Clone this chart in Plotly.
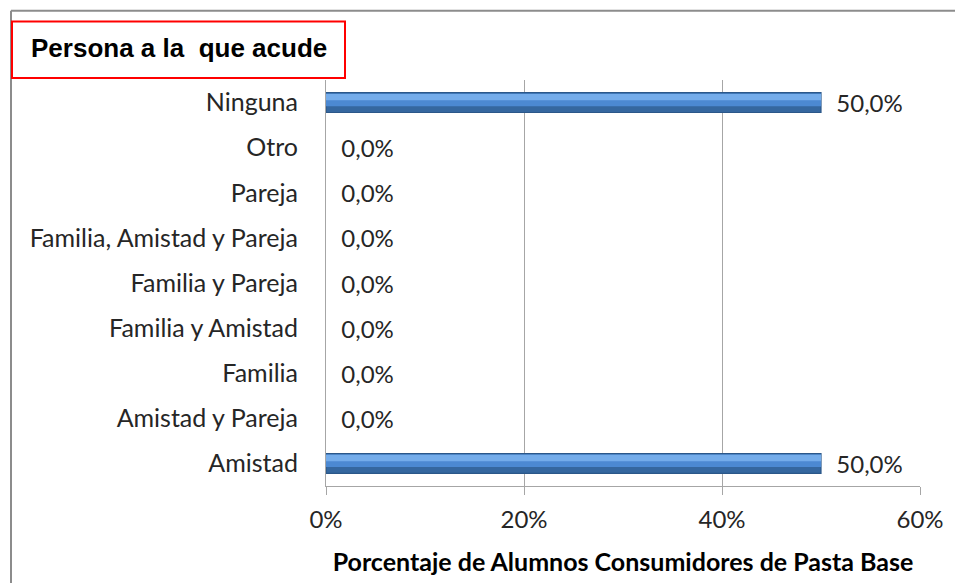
import plotly.graph_objects as go

categories = ["Amistad", "Amistad y Pareja", "Familia", "Familia y Amistad",
              "Familia y Pareja", "Familia, Amistad y Pareja", "Pareja", "Otro", "Ninguna"]
values = [50.0, 0.0, 0.0, 0.0, 0.0, 0.0, 0.0, 0.0, 50.0]
x_ticks = [0, 20, 40, 60]
x_tick_labels = ["0%", "20%", "40%", "60%"]
title_text = "Persona a la  que acude"
x_title = "Porcentaje de Alumnos Consumidores de Pasta Base"

labels = ["\u00a0\u00a0" + f"{v:.1f}%".replace(".", ",") for v in values]

OFF = 8  # page body margin
W, H = 963 - OFF, 583 - OFF
L, R, T, B = 326 - OFF, 963 - 920, 80 - OFF, 583 - 490
pw, ph = W - L - R, H - T - B

def px(x):
    return (x - OFF - L) / pw

def py(y):
    return (H - B - (y - OFF)) / ph

font_main = "Lato, Calibri, sans-serif"
edge_w = [1.2 if v > 0 else 0 for v in values]

fig = go.Figure()
fig.add_trace(go.Bar(
    y=categories, x=values, orientation="h",
    marker=dict(color="#35679F", line=dict(color="#2B5789", width=edge_w)),
    width=0.44,
    text=labels, textposition="outside", cliponaxis=False, constraintext="none",
    textfont=dict(family=font_main, size=24, color="#262626"),
    hoverinfo="skip",
))
# lighter bands in the upper part of each bar (gradient look)
fig.add_trace(go.Bar(
    y=categories, x=values, orientation="h",
    marker=dict(color="#4C89D2", line=dict(width=0)),
    width=0.28, offset=-0.08,
    hoverinfo="skip",
))
fig.add_trace(go.Bar(
    y=categories, x=values, orientation="h",
    marker=dict(color="#74ACEA", line=dict(width=0)),
    width=0.14, offset=0.05,
    hoverinfo="skip",
))

fig.update_layout(
    width=W, height=H,
    margin=dict(l=L, r=R, t=T, b=B),
    paper_bgcolor="white", plot_bgcolor="white",
    showlegend=False, barmode="overlay",
    xaxis=dict(
        range=[0, 60], tickvals=x_ticks, ticktext=x_tick_labels,
        showgrid=True, gridcolor="#a6a6a6", gridwidth=1,
        showline=True, linecolor="#a6a6a6", linewidth=1,
        ticks="outside", ticklen=8, tickcolor="#a6a6a6",
        zeroline=False, ticklabelstandoff=4,
        tickfont=dict(family=font_main, size=24, color="#262626"),
        title=dict(text="<b>" + x_title + "</b>", standoff=21,
                   font=dict(family=font_main, size=25, color="#000000")),
    ),
    yaxis=dict(
        categoryorder="array", categoryarray=categories,
        showline=True, linecolor="#a6a6a6", linewidth=1,
        showgrid=False, zeroline=False, ticks="",
        ticklabelstandoff=22,
        tickfont=dict(family=font_main, size=25, color="#262626"),
    ),
)

# outer chart border (left and top visible)
fig.add_shape(type="line", xref="paper", yref="paper",
              x0=px(11), x1=px(11), y0=py(10), y1=py(600),
              line=dict(color="#8c8c8c", width=2))
fig.add_shape(type="line", xref="paper", yref="paper",
              x0=px(11), x1=px(975), y0=py(10), y1=py(10),
              line=dict(color="#8c8c8c", width=2))
# red title box
fig.add_shape(type="rect", xref="paper", yref="paper",
              x0=px(12), x1=px(345), y0=py(78), y1=py(21),
              line=dict(color="#ff0000", width=2), fillcolor="white", layer="above")
fig.add_annotation(text="<b>" + title_text + "</b>", xref="paper", yref="paper",
                   x=px(29), y=py(48), xanchor="left", yanchor="middle", showarrow=False,
                   font=dict(family="Liberation Sans, Arial, sans-serif", size=26, color="#000000"))

fig.write_html("out.html")
